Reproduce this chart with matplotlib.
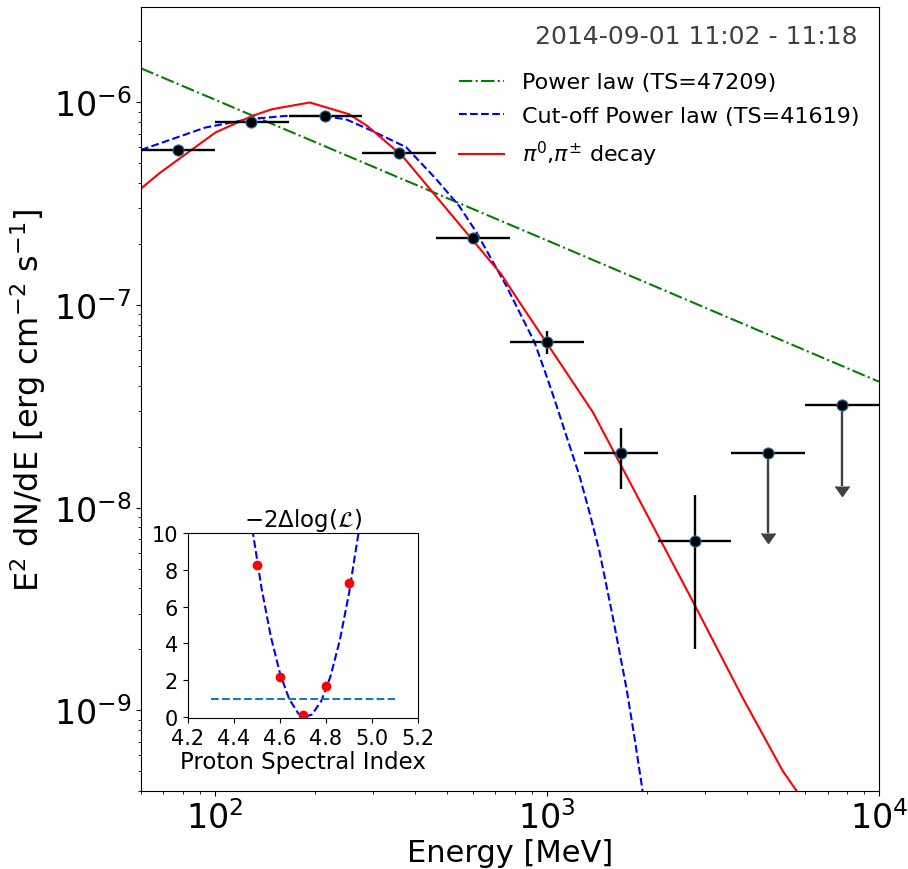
import numpy as np
import matplotlib.pyplot as plt
from matplotlib.ticker import NullFormatter

# SED flux points (energy bins in MeV, E^2 dN/dE in erg cm^-2 s^-1)
e_center = [77.5, 129, 215, 359, 599, 1000, 1668, 2783]
e_lo = [60, 100, 167, 278, 464, 774, 1292, 2154]
e_hi = [100, 167, 278, 464, 774, 1292, 2154, 3594]
flux = [5.80e-7, 7.97e-7, 8.53e-7, 5.60e-7, 2.15e-7, 6.57e-8, 1.85e-8, 6.82e-9]
flux_lo = [5.66e-7, 7.80e-7, 8.36e-7, 5.46e-7, 2.08e-7, 5.74e-8, 1.24e-8, 2.0e-9]
flux_hi = [5.94e-7, 8.14e-7, 8.70e-7, 5.74e-7, 2.22e-7, 7.47e-8, 2.48e-8, 1.16e-8]

# upper limits
ul_center = [4642, 7746]
ul_lo = [3594, 5995]
ul_hi = [5995, 10000]
ul_flux = [1.87e-8, 3.19e-8]
ul_arrow = [7.5e-9, 1.28e-8]

# model curves
pl_e = [60, 1091, 10000]
pl_f = [1.47e-6, 1.96e-7, 4.18e-8]

cpl_e = [60, 74.3, 93.7, 126.7, 163.4, 208.4, 248, 298, 377, 464, 545, 613, 755,
         917, 983, 1053, 1129, 1253, 1344, 1440, 1576, 1737, 1837, 1942]
cpl_f = [5.82e-7, 6.57e-7, 7.50e-7, 8.25e-7, 8.56e-7, 8.56e-7, 8.25e-7, 7.22e-7,
         6.00e-7, 4.18e-7, 3.07e-7, 2.29e-7, 1.24e-7, 6.57e-8, 4.78e-8, 3.44e-8,
         2.42e-8, 1.44e-8, 9.45e-9, 6.07e-9, 2.94e-9, 1.28e-9, 7.28e-10, 3.99e-10]

pi_e = [59.4, 68.6, 100.5, 129.6, 148.9, 193.4, 253.7, 288, 367, 458, 728, 815,
        1375, 2691, 3888, 5134, 5656]
pi_f = [3.70e-7, 4.50e-7, 7.09e-7, 8.56e-7, 9.24e-7, 9.97e-7, 8.73e-7, 7.64e-7,
        5.44e-7, 3.52e-7, 1.42e-7, 1.07e-7, 2.96e-8, 3.69e-9, 1.15e-9, 5.01e-10, 3.99e-10]

# likelihood profile (inset)
idx_pts = [4.5, 4.6, 4.7, 4.8, 4.9]
ts_pts = [8.27, 2.20, 0.11, 1.71, 7.27]
idx_fit = [4.48, 4.52, 4.56, 4.60, 4.64, 4.68, 4.71, 4.74, 4.78, 4.82, 4.86, 4.90, 4.94, 4.95]
ts_fit = [10.2, 7.0, 4.39, 2.38, 0.98, 0.19, 0.0, 0.15, 0.88, 2.22, 4.16, 6.7, 9.88, 10.8]

fig = plt.figure(figsize=(9.08, 8.7), dpi=100)
ax = fig.add_axes([0.1553, 0.0897, 0.8128, 0.9011])

ax.plot(pl_e, pl_f, 'g-.', lw=1.5, label='Power law (TS=47209)')
ax.plot(cpl_e, cpl_f, 'b--', lw=1.5, label='Cut-off Power law (TS=41619)')
ax.plot(pi_e, pi_f, 'r-', lw=1.5, label=r'$\pi^0$,$\pi^{\pm}$ decay')

xerr = [np.subtract(e_center, e_lo), np.subtract(e_hi, e_center)]
yerr = [np.subtract(flux, flux_lo), np.subtract(flux_hi, flux)]
ax.errorbar(e_center, flux, xerr=xerr, yerr=yerr, fmt='o', color='k', ms=8,
            mec='#1f77b4', mew=0.8, elinewidth=1.7, capsize=0, zorder=5)

ul_xerr = [np.subtract(ul_center, ul_lo), np.subtract(ul_hi, ul_center)]
ax.errorbar(ul_center, ul_flux, yerr=[np.subtract(ul_flux, ul_arrow), np.zeros(2)],
            uplims=True, fmt='none', color='0.25', ecolor='0.25', elinewidth=1.7,
            capsize=5, zorder=4)
ax.errorbar(ul_center, ul_flux, xerr=ul_xerr, fmt='o', color='k', ms=8,
            mec='#1f77b4', mew=0.8, elinewidth=1.7, capsize=0, zorder=5)

ax.set_xscale('log')
ax.set_yscale('log')
ax.set_xlim(60, 1e4)
ax.set_ylim(4e-10, 2.95e-6)
ax.xaxis.set_minor_formatter(NullFormatter())
ax.yaxis.set_minor_formatter(NullFormatter())
ax.tick_params(labelsize=24)
ax.set_xlabel('Energy [MeV]', fontsize=22, labelpad=2)
ax.set_ylabel(r'E$^2$ dN/dE [erg cm$^{-2}$ s$^{-1}$]', fontsize=23)

ax.text(0.9715, 0.963, '2014-09-01 11:02 - 11:18', transform=ax.transAxes,
        ha='right', va='center', fontsize=18, color='0.25')
ax.legend(loc='upper right', bbox_to_anchor=(1.0, 0.942), frameon=False, fontsize=16,
          labelspacing=0.6)

# inset: likelihood scan
ins = fig.add_axes([0.207, 0.1736, 0.2533, 0.2126])
ins.plot(idx_fit, ts_fit, 'b--', lw=1.5)
ins.plot(idx_pts, ts_pts, 'o', color='r', ms=6)
ins.hlines(1, 4.3, 5.1, colors='#1f77b4', linestyles='--', lw=1.5)
ins.set_xlim(4.2, 5.2)
ins.set_ylim(-0.05, 10)
ins.set_xticks([4.2, 4.4, 4.6, 4.8, 5.0, 5.2])
ins.set_yticks([0, 2, 4, 6, 8, 10])
ins.tick_params(labelsize=15)
ins.set_xlabel('Proton Spectral Index', fontsize=16.5, labelpad=2)
ins.set_title(r'$-2\Delta\log(\mathcal{L})$', fontsize=16.5, pad=4)

fig.savefig('out.png', dpi=100)
